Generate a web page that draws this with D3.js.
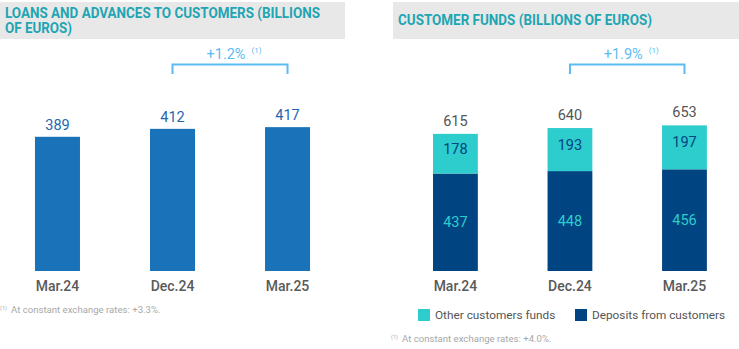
<!DOCTYPE html>
<html>
<head>
<meta charset="utf-8">
<script src="https://cdn.jsdelivr.net/npm/d3@7"></script>
<style>
  body { margin: 0; background: #fff; }
  svg text { font-family: Roboto, "Noto Sans", sans-serif; }
</style>
</head>
<body>
<div class="chart"></div>
<script>
// data
var periods = ["Mar.24", "Dec.24", "Mar.25"];
var loans = [389, 412, 417];
var deposits = [437, 448, 456];
var otherFunds = [178, 193, 197];
var fundsTotal = [615, 640, 653];
var loansChange = "+1.2%";
var fundsChange = "+1.9%";
var legendLabels = ["Other customers funds", "Deposits from customers"];
var footLeft = "At constant exchange rates: +3.3%.";
var footRight = "At constant exchange rates: +4.0%.";

var W = 739, H = 349;
var teal = "#1fa5b3", barBlue = "#1a73b8", navy = "#004481", aqua = "#2dcccd",
    bracket = "#5bbcf3", grey = "#555";

var svg = d3.select("div.chart").append("svg")
  .attr("width", W).attr("height", H);

// ---- title boxes
svg.append("rect").attr("x", 0).attr("y", 2).attr("width", 345).attr("height", 37).attr("fill", "#e8e8e8");
svg.append("rect").attr("x", 393).attr("y", 2).attr("width", 346).attr("height", 37).attr("fill", "#e8e8e8");

function title(x, y, txt, len) {
  svg.append("text").attr("x", x).attr("y", y)
    .attr("fill", teal).attr("font-size", 14).attr("font-weight", 700)
    .attr("textLength", len).attr("lengthAdjust", "spacingAndGlyphs")
    .text(txt);
}
title(5, 18, "LOANS AND ADVANCES TO CUSTOMERS (BILLIONS", 315);
title(5, 33, "OF EUROS)", 67);
title(398, 25, "CUSTOMER FUNDS (BILLIONS OF EUROS)", 254);

var base = 271;

// ---- left chart
var xL = d3.scaleBand().domain(periods).range([0, 345]).paddingInner(0.6087).paddingOuter(0.304);
var yL = d3.scaleLinear().domain([0, 600]).range([base, base - 600 * 0.345]);

svg.selectAll(".loan").data(loans).enter().append("rect")
  .attr("x", (d, i) => xL(periods[i]))
  .attr("y", d => yL(d))
  .attr("width", xL.bandwidth())
  .attr("height", d => base - yL(d))
  .attr("fill", barBlue);

svg.selectAll(".loanLab").data(loans).enter().append("text")
  .attr("x", (d, i) => xL(periods[i]) + xL.bandwidth() / 2)
  .attr("y", d => yL(d) - 7)
  .attr("text-anchor", "middle").attr("font-size", 14.5)
  .attr("fill", "#2366ad")
  .text(d => d);

// ---- right chart
var xR = d3.scaleBand().domain(periods).range([398.2, 741.7]).paddingInner(0.6087).paddingOuter(0.304);
var yR = d3.scaleLinear().domain([0, 700]).range([base, base - 700 * 0.223]);

var stack = d3.stack().keys(["dep", "oth"])(periods.map((p, i) => ({ p: p, dep: deposits[i], oth: otherFunds[i] })));
var colors = { dep: navy, oth: aqua };
var labCol = { dep: aqua, oth: navy };

stack.forEach(function(layer) {
  var g = svg.append("g");
  g.selectAll("rect").data(layer).enter().append("rect")
    .attr("x", d => xR(d.data.p))
    .attr("y", d => yR(d[1]))
    .attr("width", xR.bandwidth())
    .attr("height", d => yR(d[0]) - yR(d[1]))
    .attr("fill", colors[layer.key]);
  g.selectAll("text").data(layer).enter().append("text")
    .attr("x", d => xR(d.data.p) + xR.bandwidth() / 2)
    .attr("y", d => (yR(d[0]) + yR(d[1])) / 2 + (layer.key == "oth" ? 0 : 5))
    .attr("text-anchor", "middle").attr("font-size", 14.5)
    .attr("fill", labCol[layer.key])
    .text(d => d[1] - d[0]);
});

svg.selectAll(".tot").data(fundsTotal).enter().append("text")
  .attr("x", (d, i) => xR(periods[i]) + xR.bandwidth() / 2)
  .attr("y", d => yR(d) - 8)
  .attr("text-anchor", "middle").attr("font-size", 14.5)
  .attr("fill", grey)
  .text(d => d);

// ---- category labels
[xL, xR].forEach(function(x) {
  svg.selectAll(null).data(periods).enter().append("text")
    .attr("x", d => x(d) + x.bandwidth() / 2)
    .attr("y", 291)
    .attr("text-anchor", "middle").attr("font-size", 14).attr("font-weight", 500)
    .attr("fill", "#5a5a5a")
    .text(d => d);
});

// ---- brackets
function drawBracket(x, c1, c2, label) {
  var a = x(c1) + x.bandwidth() / 2, b = x(c2) + x.bandwidth() / 2;
  svg.append("path")
    .attr("d", "M" + a + ",74V64.5H" + b + "V74")
    .attr("fill", "none").attr("stroke", bracket).attr("stroke-width", 2);
  var t = svg.append("text").attr("x", (a + b) / 2 + 4).attr("y", 59)
    .attr("text-anchor", "middle").attr("font-size", 14.5).attr("fill", bracket);
  t.append("tspan").text(label);
  t.append("tspan").attr("font-size", 8).attr("dx", 6).attr("dy", -6).text("(1)");
}
drawBracket(xL, "Dec.24", "Mar.25", loansChange);
drawBracket(xR, "Dec.24", "Mar.25", fundsChange);

// ---- legend
var legX = [418, 575];
legendLabels.forEach(function(l, i) {
  svg.append("rect").attr("x", legX[i]).attr("y", 309).attr("width", 12).attr("height", 12)
    .attr("fill", i == 0 ? aqua : navy);
  svg.append("text").attr("x", legX[i] + 17).attr("y", 318.5)
    .attr("font-size", 11.8).attr("fill", grey).text(l);
});

// ---- footnotes
function foot(x, y, txt) {
  svg.append("text").attr("x", x).attr("y", y - 3).attr("font-size", 5.5).attr("fill", "#aaa").text("(1)");
  svg.append("text").attr("x", x + 11).attr("y", y).attr("font-size", 9.6).attr("fill", "#a8a8a8").text(txt);
}
foot(0, 313, footLeft);
foot(391, 342, footRight);
</script>
</body>
</html>
